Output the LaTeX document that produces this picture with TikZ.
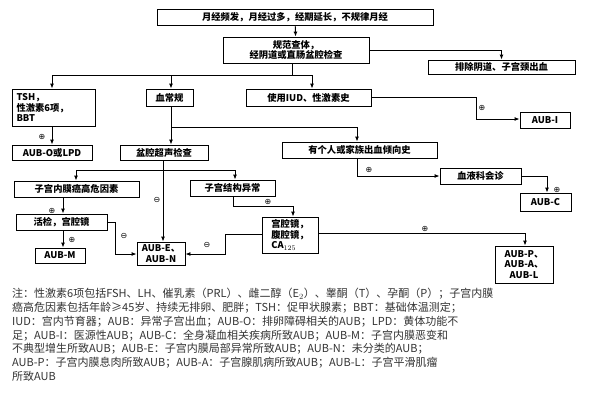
\documentclass[tikz,border=0pt]{standalone}
\usepackage{fontspec}
\setmainfont{Noto Sans CJK SC}
\newfontfamily\symf{DejaVu Sans}
\usetikzlibrary{arrows.meta}
\tikzset{
  box/.style={draw,line width=0.9pt,inner sep=1pt,font=\bfseries\fontsize{9.3}{10.5}\selectfont,align=center},
  conn/.style={line width=0.9pt,-{Latex[length=5pt,width=4pt]}},
  sign/.style={font=\symf\fontsize{8}{8}\selectfont,inner sep=0pt}
}
\begin{document}
\begin{tikzpicture}[x=1pt,y=-1pt]
\useasboundingbox[fill=white] (0,0) rectangle (600,400);

\node[box,minimum width=276,minimum height=16] (top) at (295,17) {月经频发，月经过多，经期延长，不规律月经};
\node[box,minimum width=146,minimum height=26] (exam) at (296,50) {规范查体，\\经阴道或直肠盆腔检查};
\node[box,minimum width=147,minimum height=14] (pc) at (501.5,67) {排除阴道、子宫颈出血};
\node[box,minimum width=83,minimum height=37,align=left,text width=74] (tsh) at (53.5,107.5) {TSH，\\性激素6项，\\BBT};
\node[box,minimum width=47,minimum height=17] (xcg) at (169.5,97.5) {血常规};
\node[box,minimum width=125,minimum height=17] (iud) at (308.5,97.5) {使用IUD、性激素史};
\node[box,minimum width=50,minimum height=16] (aubi) at (545,120) {AUB-I};
\node[box,minimum width=80,minimum height=15] (aubo) at (52,152.5) {AUB-O或LPD};
\node[box,minimum width=88,minimum height=15] (pq) at (164,152.5) {盆腔超声检查};
\node[box,minimum width=155,minimum height=16] (yg) at (359.5,150) {有个人或家族出血倾向史};
\node[box,minimum width=81,minimum height=16] (xy) at (480.5,176) {血液科会诊};
\node[box,minimum width=51,minimum height=18] (aubc) at (545.5,202) {AUB-C};
\node[box,minimum width=125,minimum height=16] (zn) at (76.5,189) {子宫内膜癌高危因素};
\node[box,minimum width=85,minimum height=16] (zj) at (232.5,188) {子宫结构异常};
\node[box,minimum width=91,minimum height=16] (hj) at (61.5,222) {活检，宫腔镜};
\node[box,minimum width=56,minimum height=36,align=left] (gq) at (290,235) {宫腔镜，\\腹腔镜，\\CA$_{125}$};
\node[box,minimum width=48,minimum height=23] (aube) at (161,253.5) {AUB-E、\\AUB-N};
\node[box,minimum width=50,minimum height=15] (aubm) at (60,255.5) {AUB-M};
\node[box,minimum width=58,minimum height=37] (aubp) at (524,264.5) {AUB-P、\\AUB-A、\\AUB-L};

% branch points
\coordinate (b1) at (292,75);
\coordinate (b2) at (171,127);
\coordinate (b3) at (163,170);

\draw[conn] (top) -- (exam);
\draw[conn] (exam.east |- 0,50) -| (pc.north);
\draw[line width=0.9pt] (exam.south -| b1) -- (b1);
\draw[conn] (b1) -| (tsh.north -| 52,0);
\draw[conn] (b1) -| (xcg.north -| 171,0);
\draw[conn] (b1) -| (iud.north -| 312,0);
\draw[conn] (iud.east) -| (476,119) -- (aubi.west |- 0,119);
\draw[conn] (tsh.south -| 52,0) -- (aubo.north -| 52,0);
\draw[conn] (xcg.south -| 171,0) -- (pq.north -| 171,0);
\draw[conn] (b2) -| (yg.north -| 357,0);
\draw[conn] (yg.south -| 357,0) |- (xy.west);
\draw[conn] (xy.east) -| (aubc.north -| 547,0);
\draw[conn] (pq.south -| b3) -- (aube.north -| b3);
\draw[conn] (b3) -| (zn.north -| 76,0);
\draw[conn] (b3) -| (zj.north -| 235,0);
\draw[conn] (zn.south -| 63,0) -- (hj.north -| 63,0);
\draw[conn] (hj.south -| 63,0) -- (aubm.north -| 63,0);
\draw[conn] (hj.east) -| (115,254) -- (aube.west |- 0,254);
\draw[conn] (zj.south -| 233,0) |- (293,206) -- (gq.north -| 293,0);
\draw[conn] (gq.west |- 0,234) -| (225,254) -- (aube.east |- 0,254);
\draw[conn] (gq.east |- 0,233) -| (aubp.north -| 525,0);

\node[sign] at (482,108) {⊕};
\node[sign] at (42,137) {⊕};
\node[sign] at (369,170) {⊕};
\node[sign] at (557,190) {⊕};
\node[sign] at (157,200) {⊖};
\node[sign] at (52,211) {⊕};
\node[sign] at (72,240) {⊕};
\node[sign] at (124,236) {⊖};
\node[sign] at (268,202) {⊕};
\node[sign] at (207,245) {⊖};
\node[sign] at (425,229) {⊕};

\node[anchor=north west,inner sep=0pt,align=left,font=\fontsize{11}{13.8}\selectfont,text=black!80] (note) at (12,288) {注：性激素6项包括FSH、LH、催乳素（PRL）、雌二醇（E$_2$）、睾酮（T）、孕酮（P）；子宫内膜\\
癌高危因素包括年龄≥45岁、持续无排卵、肥胖；TSH：促甲状腺素；BBT：基础体温测定；\\
IUD：宫内节育器；AUB：异常子宫出血；AUB-O：排卵障碍相关的AUB；LPD：黄体功能不\\
足；AUB-I：医源性AUB；AUB-C：全身凝血相关疾病所致AUB；AUB-M：子宫内膜恶变和\\
不典型增生所致AUB；AUB-E：子宫内膜局部异常所致AUB；AUB-N：未分类的AUB；\\
AUB-P：子宫内膜息肉所致AUB；AUB-A：子宫腺肌病所致AUB；AUB-L：子宫平滑肌瘤\\
所致AUB};
\end{tikzpicture}
\end{document}
